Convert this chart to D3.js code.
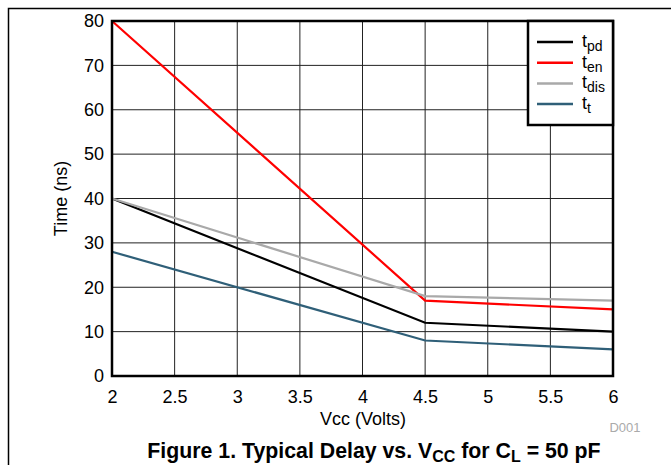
<!DOCTYPE html>
<html>
<head>
<meta charset="utf-8">
<script src="https://cdn.jsdelivr.net/npm/d3@7"></script>
<style>
  body { margin: 0; background: #fff; }
  text { font-family: "Liberation Sans", Arial, sans-serif; }
</style>
</head>
<body>
<div id="chart"></div>
<script>
// data
const vcc = [2, 4.5, 6];
const tpd = [40, 12, 10];
const ten = [80, 17, 15];
const tdis = [40, 18, 17];
const tt = [28, 8, 6];
const xTicks = [2, 2.5, 3, 3.5, 4, 4.5, 5, 5.5, 6];
const yTicks = [0, 10, 20, 30, 40, 50, 60, 70, 80];

const series = [
  {name: "t", sub: "pd", values: tpd, color: "#000000"},
  {name: "t", sub: "en", values: ten, color: "#ff0000"},
  {name: "t", sub: "dis", values: tdis, color: "#a9a9a9"},
  {name: "t", sub: "t", values: tt, color: "#2f5f78"}
];

const width = 671;
const height = 465;
const marginTop = 21;
const marginRight = 58;
const marginBottom = 89;
const marginLeft = 112;

const x = d3.scaleLinear([2, 6], [marginLeft, width - marginRight]);
const y = d3.scaleLinear([0, 80], [height - marginBottom, marginTop]);

const svg = d3.create("svg")
    .attr("width", width)
    .attr("height", height);

// outer frame (runs off the right/bottom of the picture)
svg.append("rect")
    .attr("x", 8.5).attr("y", 8.5)
    .attr("width", width + 20).attr("height", height + 20)
    .attr("fill", "none")
    .attr("stroke", "#000")
    .attr("stroke-width", 1.5);

// grid
svg.append("g")
    .attr("stroke", "#222")
    .attr("stroke-width", 1)
    .selectAll("line.v")
    .data(xTicks.slice(1, -1))
    .join("line")
    .attr("x1", d => x(d)).attr("x2", d => x(d))
    .attr("y1", y(0)).attr("y2", y(80));

svg.append("g")
    .attr("stroke", "#222")
    .attr("stroke-width", 1)
    .selectAll("line.h")
    .data(yTicks.slice(1, -1))
    .join("line")
    .attr("y1", d => y(d)).attr("y2", d => y(d))
    .attr("x1", x(2)).attr("x2", x(6));

// axes, labels only
const xAxis = svg.append("g")
    .attr("transform", `translate(0,${y(0)})`)
    .call(d3.axisBottom(x).tickValues(xTicks).tickSize(0).tickPadding(14).tickFormat(d3.format("")));
xAxis.select(".domain").remove();
xAxis.selectAll("text").attr("font-size", 18).attr("fill", "#000")
    .attr("font-family", "Liberation Sans, Arial, sans-serif");

const yAxis = svg.append("g")
    .attr("transform", `translate(${x(2)},0)`)
    .call(d3.axisLeft(y).tickValues(yTicks).tickSize(0).tickPadding(8));
yAxis.select(".domain").remove();
yAxis.selectAll("text").attr("font-size", 18).attr("fill", "#000")
    .attr("font-family", "Liberation Sans, Arial, sans-serif");

// lines
const line = d3.line()
    .x((d, i) => x(vcc[i]))
    .y(d => y(d));

svg.append("g")
    .selectAll("path")
    .data(series)
    .join("path")
    .attr("fill", "none")
    .attr("stroke", d => d.color)
    .attr("stroke-width", 2.2)
    .attr("d", d => line(d.values));

// plot border
svg.append("rect")
    .attr("x", x(2)).attr("y", y(80))
    .attr("width", x(6) - x(2)).attr("height", y(0) - y(80))
    .attr("fill", "none")
    .attr("stroke", "#000")
    .attr("stroke-width", 2.5);

// legend
const lg = svg.append("g");
lg.append("rect")
    .attr("x", 528).attr("y", y(80))
    .attr("width", x(6) - 528).attr("height", 104)
    .attr("fill", "#fff")
    .attr("stroke", "#000")
    .attr("stroke-width", 2.5);

const rows = lg.selectAll("g.row")
    .data(series)
    .join("g")
    .attr("transform", (d, i) => `translate(0,${42 + i * 20.7})`);

rows.append("line")
    .attr("x1", 537).attr("x2", 573)
    .attr("y1", 0).attr("y2", 0)
    .attr("stroke", d => d.color)
    .attr("stroke-width", 2.5);

const lt = rows.append("text")
    .attr("x", 582).attr("y", 5)
    .attr("font-size", 18);
lt.append("tspan").text(d => d.name);
lt.append("tspan").attr("dy", 4).attr("font-size", 14).text(d => d.sub);

// axis titles
svg.append("text")
    .attr("x", 363).attr("y", 425)
    .attr("text-anchor", "middle")
    .attr("font-size", 18)
    .text("Vcc (Volts)");

svg.append("text")
    .attr("transform", "translate(67,198.5) rotate(-90)")
    .attr("text-anchor", "middle")
    .attr("font-size", 18)
    .text("Time (ns)");

svg.append("text")
    .attr("x", 625).attr("y", 432)
    .attr("text-anchor", "middle")
    .attr("font-size", 13)
    .attr("fill", "#aaa")
    .text("D001");

// caption
const cap = svg.append("text")
    .attr("x", 374).attr("y", 458)
    .attr("text-anchor", "middle")
    .attr("font-size", 21.3)
    .attr("font-weight", "bold");
cap.append("tspan").text("Figure 1. Typical Delay vs. V");
cap.append("tspan").attr("dy", 4).attr("font-size", 16).text("CC");
cap.append("tspan").attr("dy", -4).text(" for C");
cap.append("tspan").attr("dy", 4).attr("font-size", 16).text("L");
cap.append("tspan").attr("dy", -4).text(" = 50 pF");

document.getElementById("chart").append(svg.node());
</script>
</body>
</html>
